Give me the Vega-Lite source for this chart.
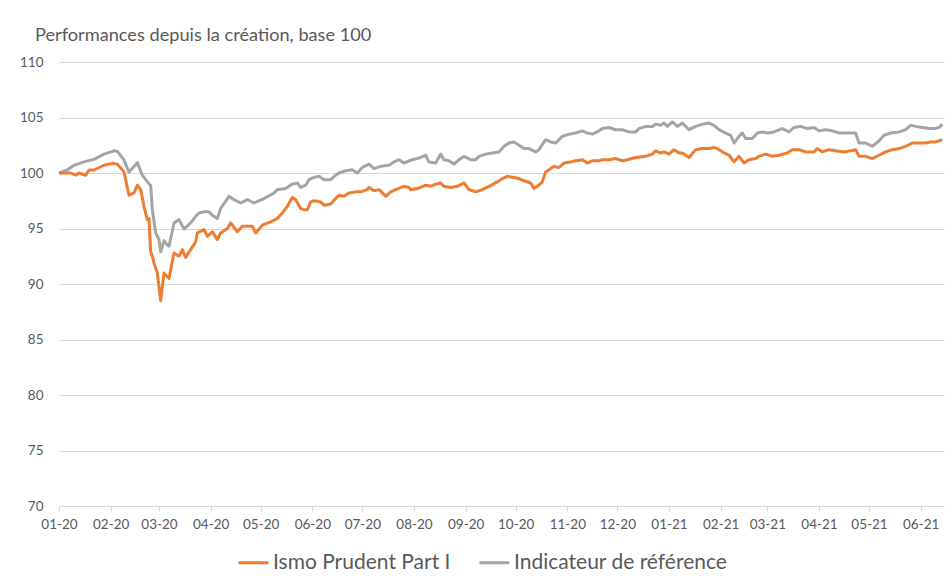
{
"$schema": "https://vega.github.io/schema/vega-lite/v6.json",
"width": 885, "height": 444,
"autosize": {"type": "none"},
"padding": {"left": 59, "top": 62, "right": 8, "bottom": 74},
"background": "white",
"config": {"view": {"stroke": null}},
"title": {"text": "Performances depuis la création, base 100", "anchor": "start", "frame": "group", "dx": -24, "offset": 10, "fontSize": 18.2, "font": "Lato", "fontWeight": "normal", "color": "#595959"},
"datasets": {
"ismo": [
{"d":"2020-01-01","v":100},{"d":"2020-01-08","v":100},{"d":"2020-01-11","v":99.8},{"d":"2020-01-13","v":100},{"d":"2020-01-17","v":99.8},{"d":"2020-01-19","v":100.27},{"d":"2020-01-22","v":100.27},{"d":"2020-01-28","v":100.7},{"d":"2020-02-02","v":100.87},{"d":"2020-02-05","v":100.8},{"d":"2020-02-09","v":100.1},{"d":"2020-02-12","v":98.0},{"d":"2020-02-15","v":98.2},{"d":"2020-02-17","v":98.9},{"d":"2020-02-19","v":98.5},{"d":"2020-02-21","v":97.0},{"d":"2020-02-23","v":95.8},{"d":"2020-02-24","v":95.9},{"d":"2020-02-25","v":92.9},{"d":"2020-02-26","v":92.5},{"d":"2020-02-27","v":91.9},{"d":"2020-02-29","v":91.0},{"d":"2020-03-02","v":88.5},{"d":"2020-03-04","v":91.0},{"d":"2020-03-07","v":90.5},{"d":"2020-03-10","v":92.8},{"d":"2020-03-13","v":92.5},{"d":"2020-03-15","v":93.1},{"d":"2020-03-17","v":92.4},{"d":"2020-03-20","v":93.1},{"d":"2020-03-23","v":93.8},{"d":"2020-03-24","v":94.6},{"d":"2020-03-28","v":94.9},{"d":"2020-03-30","v":94.3},{"d":"2020-04-02","v":94.7},{"d":"2020-04-05","v":94.0},{"d":"2020-04-07","v":94.6},{"d":"2020-04-11","v":95.0},{"d":"2020-04-13","v":95.5},{"d":"2020-04-17","v":94.7},{"d":"2020-04-20","v":95.2},{"d":"2020-04-26","v":95.2},{"d":"2020-04-28","v":94.6},{"d":"2020-05-02","v":95.3},{"d":"2020-05-07","v":95.6},{"d":"2020-05-11","v":95.9},{"d":"2020-05-14","v":96.4},{"d":"2020-05-17","v":97.0},{"d":"2020-05-20","v":97.8},{"d":"2020-05-22","v":97.6},{"d":"2020-05-25","v":96.8},{"d":"2020-05-27","v":96.7},{"d":"2020-05-29","v":96.7},{"d":"2020-05-31","v":97.4},{"d":"2020-06-02","v":97.5},{"d":"2020-06-06","v":97.4},{"d":"2020-06-08","v":97.1},{"d":"2020-06-12","v":97.2},{"d":"2020-06-15","v":97.7},{"d":"2020-06-17","v":98.0},{"d":"2020-06-20","v":97.9},{"d":"2020-06-23","v":98.2},{"d":"2020-06-27","v":98.3},{"d":"2020-06-30","v":98.3},{"d":"2020-07-04","v":98.5},{"d":"2020-07-05","v":98.7},{"d":"2020-07-08","v":98.4},{"d":"2020-07-11","v":98.5},{"d":"2020-07-15","v":97.9},{"d":"2020-07-18","v":98.3},{"d":"2020-07-21","v":98.5},{"d":"2020-07-26","v":98.8},{"d":"2020-07-29","v":98.7},{"d":"2020-07-30","v":98.5},{"d":"2020-08-03","v":98.6},{"d":"2020-08-08","v":98.9},{"d":"2020-08-11","v":98.8},{"d":"2020-08-14","v":99.0},{"d":"2020-08-17","v":99.1},{"d":"2020-08-19","v":98.8},{"d":"2020-08-23","v":98.7},{"d":"2020-08-27","v":98.8},{"d":"2020-08-31","v":99.1},{"d":"2020-09-03","v":98.5},{"d":"2020-09-07","v":98.3},{"d":"2020-09-11","v":98.5},{"d":"2020-09-15","v":98.8},{"d":"2020-09-20","v":99.2},{"d":"2020-09-23","v":99.5},{"d":"2020-09-26","v":99.7},{"d":"2020-09-30","v":99.6},{"d":"2020-10-03","v":99.5},{"d":"2020-10-06","v":99.3},{"d":"2020-10-10","v":99.1},{"d":"2020-10-12","v":98.6},{"d":"2020-10-14","v":98.8},{"d":"2020-10-17","v":99.2},{"d":"2020-10-19","v":100.1},{"d":"2020-10-21","v":100.3},{"d":"2020-10-24","v":100.6},{"d":"2020-10-27","v":100.5},{"d":"2020-10-30","v":100.9},{"d":"2020-11-03","v":101.0},{"d":"2020-11-06","v":101.1},{"d":"2020-11-10","v":101.2},{"d":"2020-11-13","v":100.9},{"d":"2020-11-16","v":101.1},{"d":"2020-11-20","v":101.1},{"d":"2020-11-22","v":101.2},{"d":"2020-11-26","v":101.2},{"d":"2020-11-30","v":101.3},{"d":"2020-12-04","v":101.1},{"d":"2020-12-07","v":101.2},{"d":"2020-12-12","v":101.4},{"d":"2020-12-18","v":101.5},{"d":"2020-12-22","v":101.7},{"d":"2020-12-24","v":102.0},{"d":"2020-12-27","v":101.8},{"d":"2020-12-29","v":101.9},{"d":"2021-01-01","v":101.7},{"d":"2021-01-04","v":102.1},{"d":"2021-01-07","v":101.8},{"d":"2021-01-09","v":101.8},{"d":"2021-01-13","v":101.4},{"d":"2021-01-17","v":102.1},{"d":"2021-01-21","v":102.2},{"d":"2021-01-25","v":102.2},{"d":"2021-01-28","v":102.3},{"d":"2021-01-30","v":102.2},{"d":"2021-02-02","v":101.9},{"d":"2021-02-06","v":101.6},{"d":"2021-02-09","v":101.0},{"d":"2021-02-12","v":101.5},{"d":"2021-02-15","v":100.9},{"d":"2021-02-18","v":101.2},{"d":"2021-02-22","v":101.3},{"d":"2021-02-24","v":101.5},{"d":"2021-02-28","v":101.7},{"d":"2021-03-04","v":101.5},{"d":"2021-03-08","v":101.6},{"d":"2021-03-13","v":101.8},{"d":"2021-03-16","v":102.1},{"d":"2021-03-20","v":102.1},{"d":"2021-03-24","v":101.9},{"d":"2021-03-29","v":101.9},{"d":"2021-03-31","v":102.2},{"d":"2021-04-03","v":101.9},{"d":"2021-04-07","v":102.1},{"d":"2021-04-11","v":102.0},{"d":"2021-04-16","v":101.9},{"d":"2021-04-20","v":102.0},{"d":"2021-04-23","v":102.1},{"d":"2021-04-25","v":101.5},{"d":"2021-04-29","v":101.5},{"d":"2021-05-03","v":101.3},{"d":"2021-05-07","v":101.6},{"d":"2021-05-11","v":101.9},{"d":"2021-05-15","v":102.1},{"d":"2021-05-19","v":102.2},{"d":"2021-05-23","v":102.4},{"d":"2021-05-27","v":102.7},{"d":"2021-05-31","v":102.7},{"d":"2021-06-04","v":102.7},{"d":"2021-06-07","v":102.8},{"d":"2021-06-10","v":102.8},{"d":"2021-06-14","v":103.0}
],
"ref": [
{"d":"2020-01-01","v":100},{"d":"2020-01-06","v":100.27},{"d":"2020-01-10","v":100.7},{"d":"2020-01-16","v":101.0},{"d":"2020-01-22","v":101.23},{"d":"2020-01-28","v":101.7},{"d":"2020-02-03","v":102.0},{"d":"2020-02-05","v":101.95},{"d":"2020-02-09","v":101.17},{"d":"2020-02-12","v":100.1},{"d":"2020-02-17","v":100.93},{"d":"2020-02-20","v":99.8},{"d":"2020-02-23","v":99.2},{"d":"2020-02-25","v":98.9},{"d":"2020-02-26","v":96.7},{"d":"2020-02-28","v":94.6},{"d":"2020-03-01","v":94.0},{"d":"2020-03-02","v":92.9},{"d":"2020-03-04","v":93.9},{"d":"2020-03-06","v":93.5},{"d":"2020-03-07","v":93.4},{"d":"2020-03-10","v":95.5},{"d":"2020-03-13","v":95.8},{"d":"2020-03-16","v":94.95},{"d":"2020-03-20","v":95.5},{"d":"2020-03-23","v":96.1},{"d":"2020-03-25","v":96.4},{"d":"2020-03-28","v":96.5},{"d":"2020-03-31","v":96.5},{"d":"2020-04-02","v":96.2},{"d":"2020-04-05","v":95.9},{"d":"2020-04-07","v":96.8},{"d":"2020-04-12","v":97.9},{"d":"2020-04-15","v":97.6},{"d":"2020-04-19","v":97.3},{"d":"2020-04-23","v":97.6},{"d":"2020-04-27","v":97.3},{"d":"2020-05-03","v":97.7},{"d":"2020-05-09","v":98.2},{"d":"2020-05-11","v":98.5},{"d":"2020-05-16","v":98.6},{"d":"2020-05-20","v":99.0},{"d":"2020-05-23","v":99.1},{"d":"2020-05-25","v":98.7},{"d":"2020-05-28","v":98.9},{"d":"2020-05-30","v":99.4},{"d":"2020-06-02","v":99.6},{"d":"2020-06-05","v":99.7},{"d":"2020-06-08","v":99.4},{"d":"2020-06-12","v":99.4},{"d":"2020-06-15","v":99.8},{"d":"2020-06-17","v":100.0},{"d":"2020-06-21","v":100.2},{"d":"2020-06-25","v":100.3},{"d":"2020-06-28","v":100.0},{"d":"2020-07-01","v":100.5},{"d":"2020-07-05","v":100.8},{"d":"2020-07-08","v":100.4},{"d":"2020-07-12","v":100.6},{"d":"2020-07-17","v":100.7},{"d":"2020-07-20","v":101.0},{"d":"2020-07-23","v":101.2},{"d":"2020-07-26","v":100.9},{"d":"2020-07-31","v":101.2},{"d":"2020-08-05","v":101.4},{"d":"2020-08-08","v":101.6},{"d":"2020-08-10","v":101.0},{"d":"2020-08-14","v":100.9},{"d":"2020-08-17","v":101.7},{"d":"2020-08-19","v":101.2},{"d":"2020-08-22","v":101.1},{"d":"2020-08-25","v":100.8},{"d":"2020-08-28","v":101.2},{"d":"2020-08-31","v":101.5},{"d":"2020-09-04","v":101.2},{"d":"2020-09-07","v":101.2},{"d":"2020-09-09","v":101.5},{"d":"2020-09-13","v":101.7},{"d":"2020-09-17","v":101.8},{"d":"2020-09-21","v":101.9},{"d":"2020-09-24","v":102.4},{"d":"2020-09-27","v":102.7},{"d":"2020-09-30","v":102.8},{"d":"2020-10-03","v":102.5},{"d":"2020-10-06","v":102.2},{"d":"2020-10-09","v":102.2},{"d":"2020-10-13","v":101.9},{"d":"2020-10-15","v":102.1},{"d":"2020-10-19","v":103.0},{"d":"2020-10-22","v":102.8},{"d":"2020-10-25","v":102.7},{"d":"2020-10-29","v":103.3},{"d":"2020-11-02","v":103.5},{"d":"2020-11-06","v":103.6},{"d":"2020-11-10","v":103.8},{"d":"2020-11-13","v":103.6},{"d":"2020-11-16","v":103.5},{"d":"2020-11-20","v":103.8},{"d":"2020-11-22","v":104.0},{"d":"2020-11-26","v":104.1},{"d":"2020-11-30","v":103.9},{"d":"2020-12-04","v":103.9},{"d":"2020-12-08","v":103.7},{"d":"2020-12-12","v":103.7},{"d":"2020-12-14","v":104.0},{"d":"2020-12-18","v":104.2},{"d":"2020-12-22","v":104.2},{"d":"2020-12-24","v":104.4},{"d":"2020-12-27","v":104.3},{"d":"2020-12-29","v":104.5},{"d":"2020-12-31","v":104.2},{"d":"2021-01-03","v":104.6},{"d":"2021-01-06","v":104.2},{"d":"2021-01-09","v":104.5},{"d":"2021-01-13","v":103.9},{"d":"2021-01-17","v":104.2},{"d":"2021-01-21","v":104.4},{"d":"2021-01-25","v":104.5},{"d":"2021-01-28","v":104.3},{"d":"2021-01-31","v":103.9},{"d":"2021-02-04","v":103.6},{"d":"2021-02-07","v":103.4},{"d":"2021-02-09","v":102.7},{"d":"2021-02-12","v":103.3},{"d":"2021-02-14","v":103.6},{"d":"2021-02-16","v":103.1},{"d":"2021-02-20","v":103.1},{"d":"2021-02-23","v":103.6},{"d":"2021-02-26","v":103.7},{"d":"2021-03-01","v":103.6},{"d":"2021-03-05","v":103.7},{"d":"2021-03-10","v":104.0},{"d":"2021-03-14","v":103.7},{"d":"2021-03-17","v":104.1},{"d":"2021-03-21","v":104.2},{"d":"2021-03-25","v":104.0},{"d":"2021-03-29","v":104.1},{"d":"2021-04-01","v":103.8},{"d":"2021-04-05","v":103.9},{"d":"2021-04-09","v":103.8},{"d":"2021-04-13","v":103.6},{"d":"2021-04-17","v":103.6},{"d":"2021-04-23","v":103.6},{"d":"2021-04-25","v":102.7},{"d":"2021-04-29","v":102.7},{"d":"2021-05-03","v":102.4},{"d":"2021-05-07","v":102.9},{"d":"2021-05-10","v":103.4},{"d":"2021-05-14","v":103.6},{"d":"2021-05-19","v":103.7},{"d":"2021-05-23","v":103.9},{"d":"2021-05-26","v":104.3},{"d":"2021-05-29","v":104.2},{"d":"2021-06-02","v":104.1},{"d":"2021-06-06","v":104.0},{"d":"2021-06-09","v":104.0},{"d":"2021-06-12","v":104.1},{"d":"2021-06-14","v":104.4}
]
},
"encoding": {
"x": {"field": "d", "type": "temporal",
 "scale": {"type": "utc", "nice": false, "domain": [{"year": 2020, "month": 1, "date": 1, "utc": true}, {"year": 2021, "month": 6, "date": 15, "utc": true}]},
 "axis": {"title": null, "labelExpr": "utcFormat(datum.value, '%m-%y')", "tickCount": {"interval": "month", "step": 1}, "grid": false, "domainColor": "#d9d9d9", "domainWidth": 1, "tickColor": "#d9d9d9", "tickSize": 5, "labelPadding": 6, "labelFontSize": 13.5, "labelFont": "Lato", "labelColor": "#595959", "labelFlush": false, "labelOverlap": false}},
"y": {"field": "v", "type": "quantitative",
 "scale": {"domain": [70, 110], "nice": false, "zero": false},
 "axis": {"title": null, "values": [70, 75, 80, 85, 90, 95, 100, 105, 110], "grid": true, "gridColor": "#d9d9d9", "domain": false, "ticks": false, "tickSize": 0, "labelPadding": 16, "labelFontSize": 13.5, "labelFont": "Lato", "labelColor": "#595959"}}
},
"layer": [
{"data": {"name": "ref"}, "mark": {"type": "line", "strokeWidth": 3, "strokeJoin": "round"},
 "encoding": {"color": {"datum": "Indicateur de référence", "type": "nominal",
  "scale": {"domain": ["Ismo Prudent Part I", "Indicateur de référence"], "range": ["#ED7D31", "#A5A5A5"]},
  "legend": {"orient": "none", "legendX": 178, "legendY": 484, "direction": "horizontal", "title": null, "symbolType": "stroke", "symbolStrokeWidth": 3, "symbolSize": 900, "labelFontSize": 21, "labelFont": "Lato", "labelColor": "#595959", "labelOffset": 3, "labelLimit": 400, "columnPadding": 22}}}},
{"data": {"name": "ismo"}, "mark": {"type": "line", "strokeWidth": 3, "strokeJoin": "round"},
 "encoding": {"color": {"datum": "Ismo Prudent Part I", "type": "nominal"}}}
]
}
